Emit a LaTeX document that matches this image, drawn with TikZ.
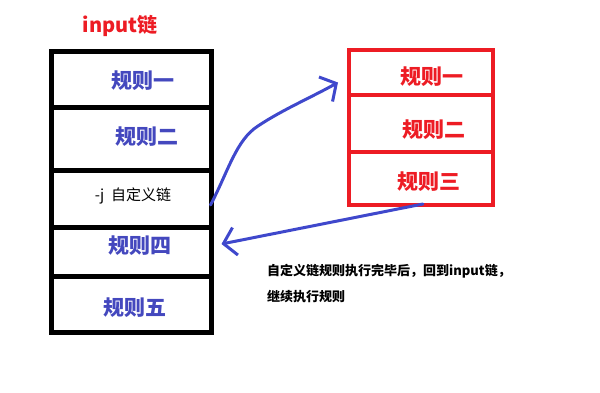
\documentclass[tikz,border=0pt]{standalone}
\usepackage{fontspec}
\setmainfont{Liberation Sans}
\newfontfamily\cjk{Noto Sans CJK SC}
\usetikzlibrary{arrows.meta}
\definecolor{rulered}{RGB}{237,28,36}
\definecolor{ruleblue}{RGB}{63,72,204}
\definecolor{textblue}{RGB}{68,72,190}
\tikzset{
  cellL/.style={draw=black, line width=5pt, inner sep=0pt, minimum width=159.5pt},
  cellR/.style={draw=rulered, line width=4pt, inner sep=0pt, minimum width=144pt},
  bluetxt/.style={text=textblue, font=\cjk\bfseries\fontsize{21}{22}\selectfont, inner sep=0pt},
  redtxt/.style={text=rulered, font=\cjk\bfseries\fontsize{21}{22}\selectfont, inner sep=0pt},
  hand/.style={draw=ruleblue, line width=3pt, line cap=round, line join=round},
  barb/.style={-{Straight Barb[length=12pt,width=28pt,line width=3pt]}}
}
\begin{document}
\begin{tikzpicture}[x=1pt,y=-1pt]
\useasboundingbox (0,0) rectangle (600,393);
% title
\node[text=rulered, font=\cjk\bfseries\fontsize{20}{22}\selectfont, inner sep=0pt] (title) at (120,26) {input链};
% left chain cells
\node[cellL, minimum height=55.5pt] (l1) at (131.25,79.75) {};
\node[cellL, minimum height=63pt] (l2) at (131.25,139) {};
\node[cellL, minimum height=57pt] (l3) at (131.25,199) {};
\node[cellL, minimum height=49pt] (l4) at (131.25,252) {};
\node[cellL, minimum height=55.5pt] (l5) at (131.25,304.25) {};
\node[bluetxt] (t1) at (143,81) {规则一};
\node[bluetxt] (t2) at (147,137) {规则二};
\node[font=\cjk\fontsize{15}{16}\selectfont, inner sep=0pt] (t3) at (133,196) {-j\ \ 自定义链};
\node[bluetxt] (t4) at (140,246) {规则四};
\node[bluetxt] (t5) at (135,308) {规则五};
% right chain cells
\node[cellR, minimum height=45pt] (r1) at (421,72.5) {};
\node[cellR, minimum height=57pt] (r2) at (421,123.5) {};
\node[cellR, minimum height=53pt] (r3) at (421,178.5) {};
\node[redtxt] (s1) at (432,77) {规则一};
\node[redtxt] (s2) at (434,130) {规则二};
\node[redtxt] (s3) at (429,182) {规则三};
% arrows
\coordinate (a1s) at ([xshift=-3pt,yshift=-6pt]l3.east);
\coordinate (a1e) at ([xshift=-9pt,yshift=-10pt]r1.west);
\draw[hand,barb] (a1s) .. controls (228,172) and (236,140) .. (258,126)
  .. controls (282,110) and (310,98) .. (a1e);
\coordinate (a2s) at ([xshift=2pt,yshift=3pt]r3.south);
\coordinate (a2e) at ([xshift=8pt,yshift=8pt]l4.east);
\draw[hand,barb] (a2s) -- (a2e);
% note
\node[anchor=west, align=left, font=\cjk\bfseries\fontsize{13}{26}\selectfont, inner sep=0pt] (note) at (267,284) {自定义链规则执行完毕后，回到input链，\\继续执行规则};
\end{tikzpicture}
\end{document}
